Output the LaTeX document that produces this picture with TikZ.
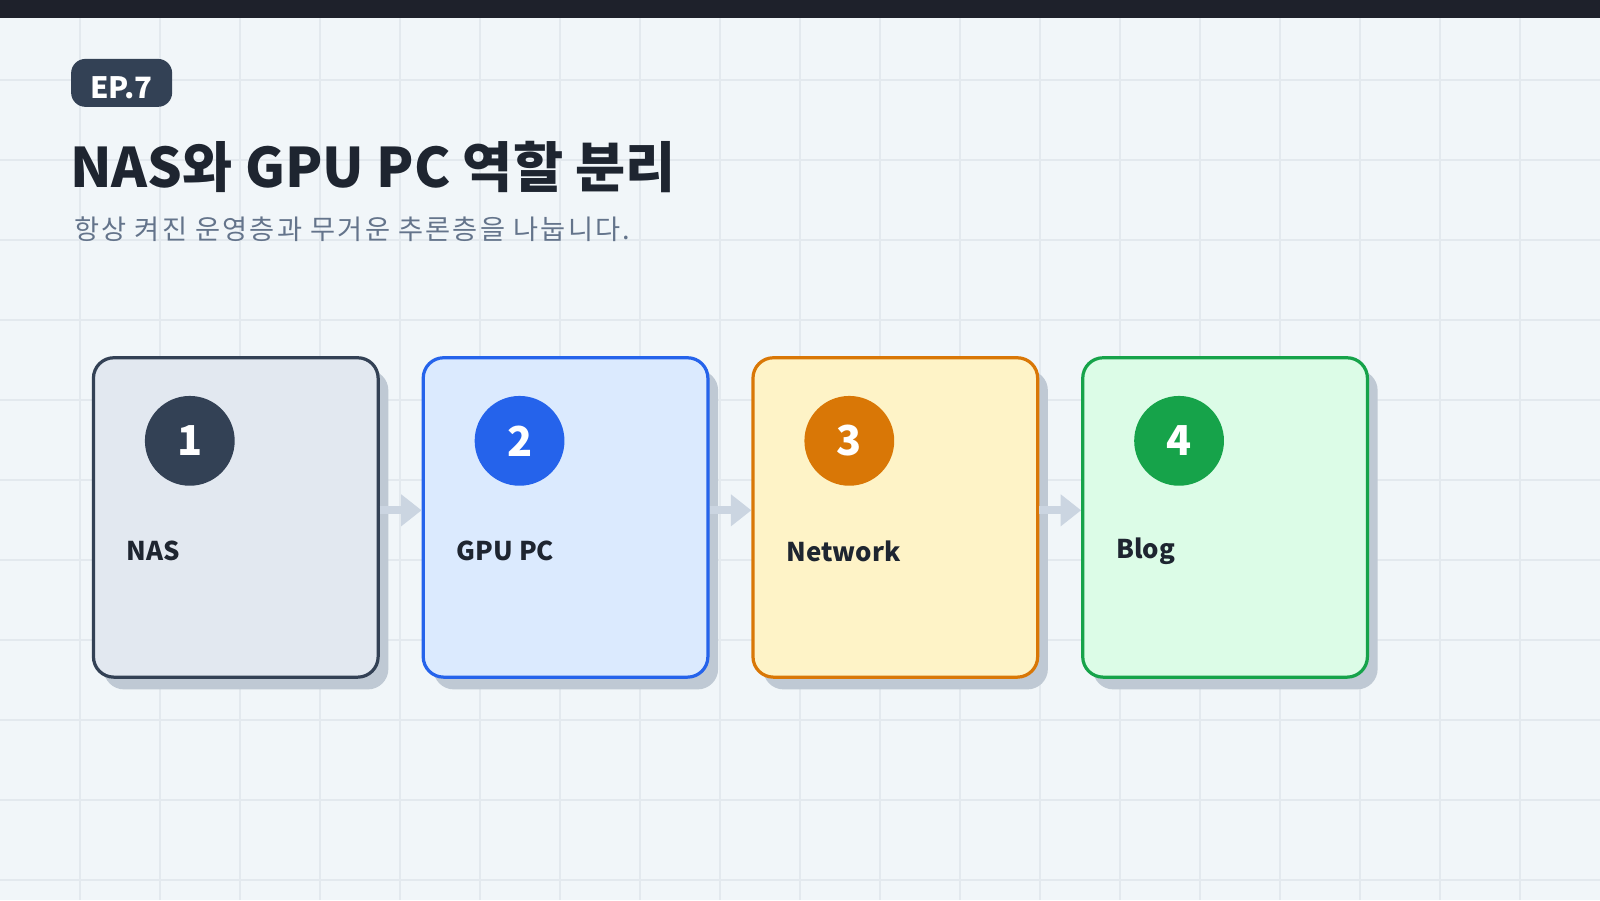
\documentclass[tikz,border=0pt]{standalone}
\usepackage{fontspec}
\setmainfont{Noto Sans CJK KR}
\usepackage{tikz}
\usetikzlibrary{calc,positioning,shadows,arrows.meta}
\definecolor{bgc}{HTML}{F1F6F9}
\definecolor{gridc}{HTML}{E3E9EE}
\definecolor{barc}{HTML}{1E212B}
\definecolor{titc}{HTML}{1E2530}
\definecolor{subc}{HTML}{64748B}
\definecolor{shc}{HTML}{BFC9D4}
\definecolor{arc}{HTML}{CBD5E1}
\definecolor{navy}{HTML}{334155}
\definecolor{navyf}{HTML}{E2E8F0}
\definecolor{blu}{HTML}{2563EB}
\definecolor{bluf}{HTML}{DBEAFE}
\definecolor{ora}{HTML}{D97706}
\definecolor{oraf}{HTML}{FEF3C7}
\definecolor{grn}{HTML}{16A34A}
\definecolor{grnf}{HTML}{DCFCE7}
\tikzset{
  card/.style={draw=#1,line width=0.9pt,rounded corners=0.2cm,minimum width=2.79cm,minimum height=3.13cm,
    drop shadow={shadow xshift=0.1cm,shadow yshift=-0.12cm,fill=shc,opacity=1}},
  badge/.style={shape=circle,fill=#1,minimum size=0.88cm,inner sep=0pt,text=white,font=\bfseries\fontsize{11.5}{12}\selectfont},
  lab/.style={font=\bfseries\fontsize{7.2}{8}\selectfont,text=titc,anchor=west},
  flow/.style={arc,line width=2.2pt,-{Triangle[length=0.2cm,width=0.3cm]}}
}
\begin{document}
\begin{tikzpicture}
		\begin{scope}
			% background, grid and top bar
			\fill[bgc] (0,0) rectangle (15.68,-8.82);
			\useasboundingbox (0,0) rectangle (15.68,-8.82);
			\foreach \i in {1,...,19} {\draw[gridc,line width=0.3pt] (\i*0.784,0) -- (\i*0.784,-8.82);}
			\foreach \j in {1,...,11} {\draw[gridc,line width=0.3pt] (0,-\j*0.784) -- (15.68,-\j*0.784);}
			\fill[barc] (0,0) rectangle (15.68,-0.18);
			% header
			\node(ep) [fill=navy,rounded corners=0.14cm,minimum width=0.99cm,minimum height=0.47cm,inner sep=0pt,anchor=north west,
			      text=white,text depth=0pt,font=\bfseries\fontsize{8.2}{8}\selectfont] at (0.69,-0.57) {\raisebox{-0.09cm}{EP.7}};
			\node(title) [anchor=west,inner sep=0pt,text=titc,font=\bfseries\fontsize{15.2}{16}\selectfont] at (0.68,-1.64) {NAS와 GPU PC 역할 분리};
			\node(sub) [anchor=west,inner sep=0pt,text=subc,font=\fontsize{7.6}{8}\selectfont] at (0.72,-2.25) {\addfontfeature{LetterSpace=8}항상 켜진 운영층과 무거운 추론층을 나눕니다.};
			% cards
			\node(nas) [card=navy,fill=navyf,anchor=north west] at (0.90,-3.49) {};
			\node(gpu) [card=blu,fill=bluf,right=0.41 of nas] {};
			\node(net) [card=ora,fill=oraf,right=0.41 of gpu] {};
			\node(blog) [card=grn,fill=grnf,right=0.41 of net] {};
			\foreach \c/\n/\col/\t in {nas/1/navy/NAS,gpu/2/blu/GPU PC,net/3/ora/Network,blog/4/grn/Blog} {
				\node(\c n) [badge=\col] at ($(\c.north west)+(0.96,-0.83)$) {\n};
				\node(\c l) [lab] at ($(\c.north west)+(0.22,-1.91)$) {\t};
			}
			\draw[flow] ($(nas.east)+(0,0.07)$) -- ($(gpu.west)+(0,0.07)$);
			\draw[flow] ($(gpu.east)+(0,0.07)$) -- ($(net.west)+(0,0.07)$);
			\draw[flow] ($(net.east)+(0,0.07)$) -- ($(blog.west)+(0,0.07)$);
		\end{scope}
	\end{tikzpicture}
\end{document}
